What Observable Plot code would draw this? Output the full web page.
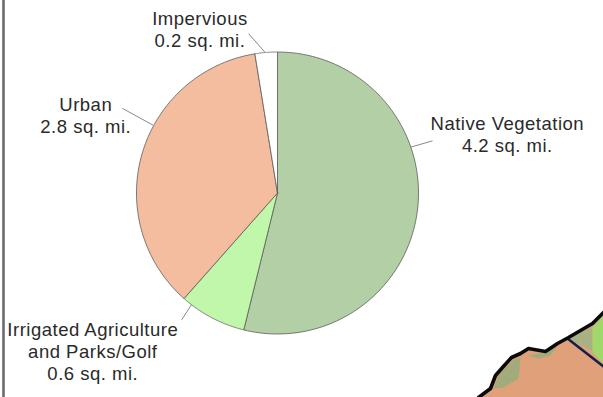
<!DOCTYPE html>
<html>
<head>
<meta charset="utf-8">
<script src="https://cdn.jsdelivr.net/npm/d3@7"></script>
<script src="https://cdn.jsdelivr.net/npm/@observablehq/plot@0.6"></script>
<style>
  html, body { margin: 0; padding: 0; background: #fff; }
  svg { display: block; }
</style>
</head>
<body>
<div id="chart"></div>
<script>
// Land cover areas, in square miles
const categories = ["Native Vegetation", "Irrigated Agriculture\nand Parks/Golf", "Urban", "Impervious"];
const areas = [4.2, 0.6, 2.8, 0.2];
const sliceColors = ["#b3cfa5", "#c0f7ab", "#f5bda0", "#ffffff"];

// Where each callout meets the rim (degrees clockwise from north) and where its text sits,
// in pie radii from the centre
const calloutRim = [71, 217.6, 298.6, 355];
const calloutEnd = [[1.10, 0.37], [-0.68, -0.90], [-1.10, 0.60], [-0.205, 1.13]];
const calloutText = [[1.63, 0.419], [-1.31, -1.117], [-1.36, 0.554], [-0.55, 1.166]];

// Inset map fragment in the lower right, in map units from the sheet corner
const coast = [[0,0],[12,-9],[17,-22],[24,-30],[33,-40],[42,-44],[50,-49],[67,-46],[79,-54],[90,-60],[102,-67],[114,-74],[125,-85]];
const land = [[0,0],[12,-9],[17,-22],[24,-30],[33,-40],[42,-44],[50,-49],[67,-46],[79,-54],[90,-60],[102,-67],[114,-74],[125,-85],[125,0]];
const scrubWest = [[15,-9],[20,-22],[27,-30],[36,-38],[42,-40],[41,-27],[40,-19],[25,-10]];
const scrubMid = [[49,-42],[67,-45],[79,-52],[72,-42],[59,-39]];
const scrubEast = [[90,-59],[102,-65],[113,-70],[114,-46]];
const irrigated = [[114,-70],[125,-82],[125,-34],[114,-45]];
const boundary = [[89,-59],[125,-31]];

// Pie geometry and map placement, as offsets on the plot's unit scales
const radiusPx = 141;
const mapOrigin = [478, 397];
const pieCentre = [277, 192.5];
const mapPoint = ([x, y]) => ({
  x: (mapOrigin[0] + x - pieCentre[0]) / radiusPx,
  y: (pieCentre[1] - mapOrigin[1] - y) / radiusPx
});
const polar = (deg, r = 1) => ({
  x: r * Math.sin(deg * Math.PI / 180),
  y: r * Math.cos(deg * Math.PI / 180)
});

// Each slice is a closed outline sampled along its arc
const pie = d3.pie().sort(null).value(d => d)(areas);
const slices = pie.flatMap((s, i) => {
  const a0 = s.startAngle * 180 / Math.PI;
  const a1 = s.endAngle * 180 / Math.PI;
  const rim = d3.range(0, 121).map(k => polar(a0 + (a1 - a0) * k / 120));
  return [{x: 0, y: 0}, ...rim, {x: 0, y: 0}].map(p => ({...p, category: categories[i]}));
});

const callouts = categories.map((name, i) => {
  const rim = polar(calloutRim[i]);
  return {
    x1: rim.x, y1: rim.y,
    x2: calloutEnd[i][0], y2: calloutEnd[i][1],
    tx: calloutText[i][0], ty: calloutText[i][1],
    label: `${name}\n${areas[i].toFixed(1)} sq. mi.`
  };
});

const area = (points, fill) =>
  Plot.line(points.map(mapPoint), {x: "x", y: "y", fill, stroke: "none", curve: "linear"});

const chart = Plot.plot({
  width: 603,
  height: 397,
  margin: 0,
  x: {domain: [-1, 1], range: [pieCentre[0] - radiusPx, pieCentre[0] + radiusPx], axis: null},
  y: {domain: [-1, 1], range: [pieCentre[1] + radiusPx, pieCentre[1] - radiusPx], axis: null},
  color: {domain: categories, range: sliceColors},
  style: {background: "#fff", letterSpacing: "0.5px"},
  marks: [
    Plot.ruleX([(3 - pieCentre[0]) / radiusPx], {stroke: "#6b6b6b", strokeWidth: 2.6}),
    area(land, "#dfa07a"),
    area(scrubWest, "#a3ab7c"),
    area(scrubMid, "#a3ab7c"),
    area(scrubEast, "#a9b184"),
    area(irrigated, "#a0d86c"),
    Plot.line(boundary.map(mapPoint), {x: "x", y: "y", stroke: "#14204a", strokeWidth: 2.6}),
    Plot.line(coast.map(mapPoint), {x: "x", y: "y", stroke: "#0b0b0b", strokeWidth: 3.6, curve: "linear"}),
    Plot.line(slices, {
      x: "x", y: "y", z: "category", fill: "category",
      stroke: "#5c5c5c", strokeWidth: 0.8, curve: "linear"
    }),
    Plot.link(callouts, {x1: "x1", y1: "y1", x2: "x2", y2: "y2", stroke: "#8a8a8a", strokeWidth: 1}),
    Plot.text(callouts, {
      x: "tx", y: "ty", text: "label",
      fontFamily: "Liberation Sans",
      fontSize: 18.5,
      lineHeight: 1.19,
      fill: "#2a2a2a"
    })
  ]
});

document.getElementById("chart").append(chart);
</script>
</body>
</html>
